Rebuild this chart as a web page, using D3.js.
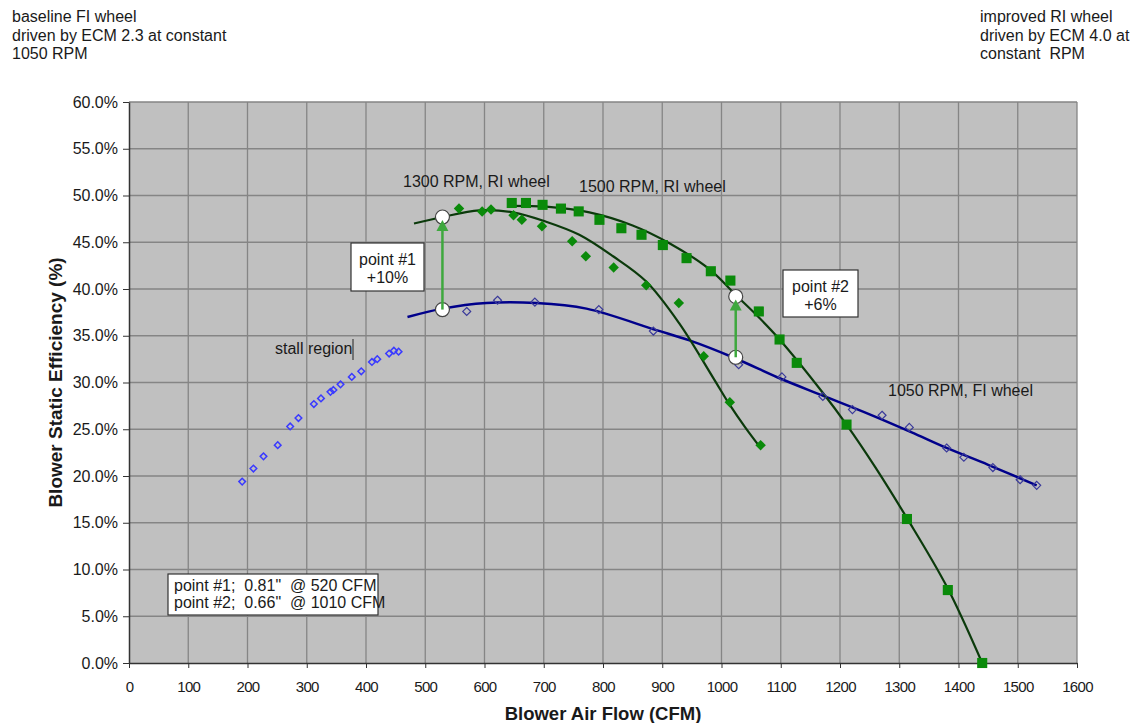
<!DOCTYPE html>
<html>
<head>
<meta charset="utf-8">
<script src="https://cdn.jsdelivr.net/npm/d3@7"></script>
<style>
body { margin: 0; background: #fff; }
svg text { font-family: Arial, "Liberation Sans", sans-serif; fill: #1a1a1a; }
</style>
</head>
<body>
<div id="chart"></div>
<script>
// ticks
var xTicks = [0, 100, 200, 300, 400, 500, 600, 700, 800, 900, 1000, 1100, 1200, 1300, 1400, 1500, 1600];
var yTicks = [0, 5, 10, 15, 20, 25, 30, 35, 40, 45, 50, 55, 60];

// 1050 RPM FI wheel, stall region (CFM, %)
var stallCfm = [191, 210, 227, 251, 272, 286, 312, 324, 340, 345, 357, 376, 392, 410, 419, 439, 447, 455];
var stallEff = [19.4, 20.8, 22.1, 23.3, 25.3, 26.2, 27.7, 28.3, 29.0, 29.2, 29.8, 30.6, 31.2, 32.2, 32.5, 33.1, 33.4, 33.3];

// 1050 RPM FI wheel, measured
var fiCfm = [570, 622, 685, 793, 885, 1029, 1102, 1171, 1221, 1271, 1317, 1380, 1409, 1458, 1504, 1532];
var fiEff = [37.6, 38.8, 38.6, 37.8, 35.5, 31.9, 30.6, 28.5, 27.1, 26.5, 25.2, 23.0, 22.0, 20.9, 19.6, 19.0];
// trend line
var fiFitCfm = [470, 529, 603, 687, 772, 890, 946, 1019, 1100, 1171, 1250, 1320, 1380, 1450, 1532];
var fiFitEff = [37.0, 37.9, 38.5, 38.5, 37.9, 35.6, 34.5, 32.7, 30.4, 28.6, 26.6, 24.7, 23.0, 21.2, 19.0];

// 1300 RPM RI wheel
var ri13Cfm = [557, 596, 611, 649, 663, 697, 748, 771, 818, 873, 928, 970, 1014, 1066];
var ri13Eff = [48.6, 48.3, 48.5, 47.9, 47.4, 46.7, 45.1, 43.5, 42.3, 40.4, 38.5, 32.8, 27.9, 23.3];
var ri13FitCfm = [481, 529, 591, 648, 704, 760, 817, 873, 929, 986, 1014, 1040, 1066];
var ri13FitEff = [47.0, 47.7, 48.4, 48.2, 47.2, 45.8, 43.5, 40.8, 36.3, 30.5, 27.6, 25.2, 23.0];

// 1500 RPM RI wheel
var ri15Cfm = [646, 670, 698, 729, 759, 794, 831, 865, 901, 941, 982, 1015, 1063, 1098, 1127, 1211, 1313, 1382, 1440];
var ri15Eff = [49.2, 49.2, 49.0, 48.6, 48.3, 47.4, 46.5, 45.8, 44.7, 43.3, 41.9, 40.9, 37.6, 34.6, 32.1, 25.5, 15.4, 7.8, 0.0];
var ri15FitCfm = [646, 704, 777, 850, 912, 980, 1025, 1064, 1098, 1171, 1211, 1260, 1312, 1380, 1440];
var ri15FitEff = [48.9, 48.8, 48.2, 46.8, 44.9, 42.1, 39.3, 36.9, 34.6, 28.9, 25.5, 20.9, 15.6, 8.2, 0.0];

// operating points: cfm, baseline eff, improved eff
var opCfm = [529, 1024];
var opLow = [37.8, 32.7];
var opHigh = [47.7, 39.2];

var width = 1134;
var height = 723;
var plotLeft = 129, plotRight = 1077, plotTop = 102, plotBottom = 663;

function zip(xs, ys) {
    return xs.map(function (x, i) { return { x: x, y: ys[i] }; });
}

var svg = d3.select("#chart")
    .append("svg")
    .attr("width", width)
    .attr("height", height);

var xScale = d3.scaleLinear().domain([0, 1600]).range([plotLeft, plotRight]);
var yScale = d3.scaleLinear().domain([0, 60]).range([plotBottom, plotTop]);

// plot background + grid
svg.append("rect")
    .attr("x", plotLeft).attr("y", plotTop)
    .attr("width", plotRight - plotLeft).attr("height", plotBottom - plotTop)
    .attr("fill", "#c0c0c0");

svg.append("g").selectAll("line")
    .data(xTicks.slice(1))
    .enter().append("line")
    .attr("x1", xScale).attr("x2", xScale)
    .attr("y1", plotTop).attr("y2", plotBottom)
    .attr("stroke", "#858585").attr("stroke-width", 1.3);

svg.append("g").selectAll("line")
    .data(yTicks.slice(1))
    .enter().append("line")
    .attr("x1", plotLeft).attr("x2", plotRight)
    .attr("y1", yScale).attr("y2", yScale)
    .attr("stroke", "#858585").attr("stroke-width", 1.3);

// axes
var xAxis = svg.append("g")
    .attr("transform", "translate(0," + plotBottom + ")")
    .call(d3.axisBottom(xScale).tickValues(xTicks).tickSize(5).tickPadding(13).tickSizeOuter(0)
        .tickFormat(d3.format("d")));
var yAxis = svg.append("g")
    .attr("transform", "translate(" + plotLeft + ",0)")
    .call(d3.axisLeft(yScale).tickValues(yTicks).tickSize(6).tickPadding(5).tickSizeOuter(0)
        .tickFormat(function (d) { return d.toFixed(1) + "%"; }));
[xAxis, yAxis].forEach(function (a) {
    a.select(".domain").attr("stroke", "#333").attr("stroke-width", 1.5);
    a.selectAll(".tick line").attr("stroke", "#333");
    a.selectAll(".tick text")
        .style("font-family", "Arial, 'Liberation Sans', sans-serif")
        .style("font-size", "16px").attr("fill", "#1a1a1a");
});
xAxis.selectAll(".tick text").style("font-size", "15px").style("letter-spacing", "-0.7px");

// axis titles
svg.append("text")
    .attr("x", (plotLeft + plotRight) / 2).attr("y", 720)
    .attr("text-anchor", "middle")
    .style("font-size", "18.5px").style("font-weight", "bold")
    .text("Blower Air Flow (CFM)");
svg.append("text")
    .attr("transform", "translate(62," + ((plotTop + plotBottom) / 2) + ") rotate(-90)")
    .attr("text-anchor", "middle")
    .style("font-size", "19px").style("font-weight", "bold")
    .text("Blower Static Efficiency (%)");

// fitted curves
var line = d3.line()
    .x(function (d) { return xScale(d.x); })
    .y(function (d) { return yScale(d.y); })
    .curve(d3.curveCatmullRom);

svg.append("path").datum(zip(fiFitCfm, fiFitEff))
    .attr("d", line).attr("fill", "none")
    .attr("stroke", "#00008b").attr("stroke-width", 2.5);
svg.append("path").datum(zip(ri13FitCfm, ri13FitEff))
    .attr("d", line).attr("fill", "none")
    .attr("stroke", "#0b3a0b").attr("stroke-width", 2.2);
svg.append("path").datum(zip(ri15FitCfm, ri15FitEff))
    .attr("d", line).attr("fill", "none")
    .attr("stroke", "#0b3a0b").attr("stroke-width", 2.2);

// markers
var diamond = d3.symbol().type(d3.symbolDiamond2);
var square = d3.symbol().type(d3.symbolSquare2);

svg.append("g").selectAll("path")
    .data(zip(stallCfm, stallEff))
    .enter().append("path")
    .attr("transform", function (d) { return "translate(" + xScale(d.x) + "," + yScale(d.y) + ")"; })
    .attr("d", diamond.size(28))
    .attr("fill", "none").attr("stroke", "#3a3aff").attr("stroke-width", 1.5);

svg.append("g").selectAll("path")
    .data(zip(fiCfm, fiEff))
    .enter().append("path")
    .attr("transform", function (d) { return "translate(" + xScale(d.x) + "," + yScale(d.y) + ")"; })
    .attr("d", diamond.size(40))
    .attr("fill", "none").attr("stroke", "#3a3a9a").attr("stroke-width", 1.2);

svg.append("g").selectAll("path")
    .data(zip(ri13Cfm, ri13Eff))
    .enter().append("path")
    .attr("transform", function (d) { return "translate(" + xScale(d.x) + "," + yScale(d.y) + ")"; })
    .attr("d", diamond.size(70))
    .attr("fill", "#0a8a0a");

svg.append("g").selectAll("path")
    .data(zip(ri15Cfm, ri15Eff))
    .enter().append("path")
    .attr("transform", function (d) { return "translate(" + xScale(d.x) + "," + yScale(d.y) + ")"; })
    .attr("d", square.size(130))
    .attr("fill", "#0a8a0a");

// operating point circles and arrows
opCfm.forEach(function (c, i) {
    [opLow[i], opHigh[i]].forEach(function (e) {
        svg.append("circle")
            .attr("cx", xScale(c)).attr("cy", yScale(e)).attr("r", 7)
            .attr("fill", "#fff").attr("stroke", "#444").attr("stroke-width", 1.2);
    });
    var x = xScale(c);
    var yTip = yScale(opHigh[i]) + 3;
    svg.append("line")
        .attr("x1", x).attr("x2", x)
        .attr("y1", yScale(opLow[i])).attr("y2", yTip + 8)
        .attr("stroke", "#3ea83e").attr("stroke-width", 2.5);
    svg.append("path")
        .attr("d", "M" + x + "," + yTip + "L" + (x - 6) + "," + (yTip + 11) + "L" + (x + 6) + "," + (yTip + 11) + "Z")
        .attr("fill", "#3ea83e");
});

// callout boxes
function callout(x, y, w, h, lines, size) {
    svg.append("rect")
        .attr("x", x).attr("y", y).attr("width", w).attr("height", h)
        .attr("fill", "#fff").attr("stroke", "#333").attr("stroke-width", 1.2);
    lines.forEach(function (t, i) {
        svg.append("text")
            .attr("x", x + w / 2).attr("y", y + 22 + i * 18)
            .attr("text-anchor", "middle")
            .style("font-size", size + "px")
            .text(t);
    });
}
callout(351, 243, 73, 48, ["point #1", "+10%"], 16);
callout(783, 270, 75, 47, ["point #2", "+6%"], 16);

// note box, bottom left (second line overflows the box as in the original)
svg.append("rect")
    .attr("x", 168).attr("y", 574).attr("width", 210).attr("height", 41)
    .attr("fill", "#fff").attr("stroke", "#333").attr("stroke-width", 1.2);
["point #1;  0.81\"  @ 520 CFM", "point #2;  0.66\"  @ 1010 CFM"].forEach(function (t, i) {
    svg.append("text")
        .attr("x", 174).attr("y", 591 + i * 16.5)
        .attr("xml:space", "preserve").style("white-space", "pre")
        .style("font-size", "16px")
        .text(t);
});

// curve labels
var labels = [
    { t: "1300 RPM, RI wheel", x: 403, y: 187 },
    { t: "1500 RPM, RI wheel", x: 579, y: 192 },
    { t: "1050 RPM, FI wheel", x: 888, y: 396 },
    { t: "stall region", x: 275, y: 354 }
];
svg.append("g").selectAll("text")
    .data(labels)
    .enter().append("text")
    .attr("x", function (d) { return d.x; })
    .attr("y", function (d) { return d.y; })
    .style("font-size", "16px")
    .text(function (d) { return d.t; });
// text cursor left after "stall region"
svg.append("line")
    .attr("x1", 353).attr("x2", 353).attr("y1", 339).attr("y2", 360)
    .attr("stroke", "#222").attr("stroke-width", 1);

// header notes
[["baseline FI wheel", "driven by ECM 2.3 at constant", "1050 RPM"], ["improved RI wheel", "driven by ECM 4.0 at", "constant  RPM"]]
    .forEach(function (block, j) {
        block.forEach(function (t, i) {
            svg.append("text")
                .attr("x", j === 0 ? 12 : 980).attr("y", 22 + i * 18.5)
                .attr("xml:space", "preserve").style("white-space", "pre")
                .style("font-size", "16px")
                .text(t);
        });
    });
</script>
</body>
</html>
